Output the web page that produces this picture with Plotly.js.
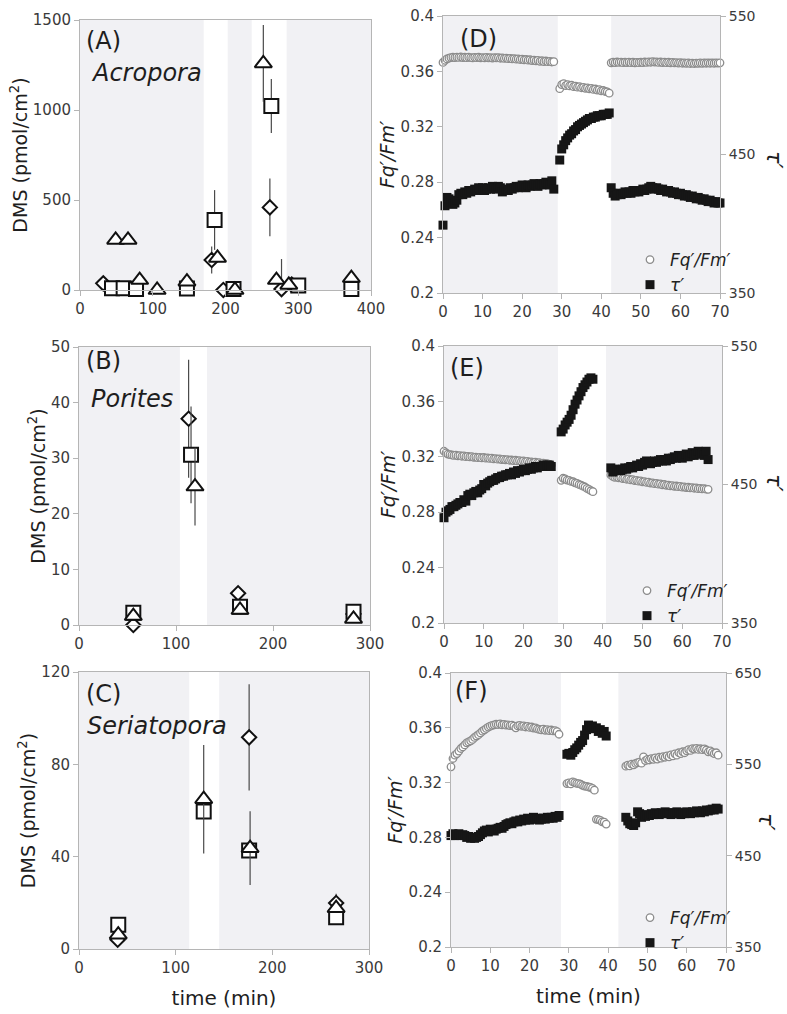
<!DOCTYPE html>
<html><head><meta charset="utf-8">
<script src="https://cdn.plot.ly/plotly-3.0.1.min.js"></script>
<style>body{margin:0;padding:0;background:#fff}#g{width:787px;height:1014px}</style>
</head><body><div id="g"></div>
<script>
// ---------- DMS panels (A, B, C) ----------
const aDiamX = [32, 181, 197, 261, 277, 291];
const aDiamY = [37, 167, 0, 459, 5, 30];
const aDiamErrP = [0, 75, 0, 160, 167, 0];
const aDiamErrM = [0, 75, 0, 160, 5, 0];
const aSqX = [44, 60, 77, 147, 185, 211, 263, 300, 373];
const aSqY = [10, 10, 5, 8, 389, 5, 1022, 25, 5];
const aSqErr = [0, 0, 0, 0, 166, 0, 150, 0, 0];
const aTriX = [49, 66, 82, 106, 147, 189, 213, 252, 270, 287, 373];
const aTriY = [278, 278, 55, 0, 46, 178, 0, 1259, 55, 28, 66];
const aTriErr = [0, 0, 0, 0, 0, 0, 0, 213, 0, 0, 0];

const bDiamX = [56, 113, 164, 283];
const bDiamY = [0, 37.1, 5.7, 2.0];
const bDiamErr = [0, 10.6, 0, 0];
const bSqX = [56, 115.5, 166, 283];
const bSqY = [2.2, 30.6, 3.3, 2.4];
const bSqErr = [0, 8.7, 0, 0];
const bTriX = [56, 119.6, 166, 283];
const bTriY = [1.6, 24.9, 2.7, 1.1];
const bTriErr = [0, 7.0, 0, 0];

const cDiamX = [40, 176, 266];
const cDiamY = [4, 91.7, 19.9];
const cDiamErr = [0, 23, 4];
const cSqX = [40.6, 129, 176, 266];
const cSqY = [10.5, 59.6, 42.7, 13.8];
const cTriX = [40.6, 129, 177, 266];
const cTriY = [6.2, 64.9, 43.7, 17.7];
const cTriErr = [0, 23.5, 16, 0];

// treatment shading (start, end) in minutes
const shadeA = [[0,170],[203,236],[284,400]];
const shadeB = [[0,104],[132,300]];
const shadeC = [[0,114],[145,300]];
const shadeD = [[0,29],[42.5,70]];
const shadeE = [[0,28.7],[40.8,70]];
const shadeF = [[0,28],[42.6,70]];

// ---------- Fluorescence panels (D, E, F) ----------
const tD = [0,0.5,1,1.5,2,2.5,3,3.5,4,4.5,5,5.5,6,6.5,7,7.5,8,8.5,9,9.5,10,10.5,11,11.5,12,12.5,13,13.5,14,14.5,15,15.5,16,16.5,17,17.5,18,18.5,19,19.5,20,20.5,21,21.5,22,22.5,23,23.5,24,24.5,25,25.5,26,26.5,27,27.5,28,
29.5,30,30.5,31,31.5,32,32.5,33,33.5,34,34.5,35,35.5,36,36.5,37,37.5,38,38.5,39,39.5,40,40.5,41,41.5,42,
42.5,43,43.5,44,44.5,45,45.5,46,46.5,47,47.5,48,48.5,49,49.5,50,50.5,51,51.5,52,52.5,53,53.5,54,54.5,55,55.5,56,56.5,57,57.5,58,58.5,59,59.5,60,60.5,61,61.5,62,62.5,63,63.5,64,64.5,65,65.5,66,66.5,67,67.5,68,68.5,69,69.5,70];
const fqD = [0.3665,0.3680,0.3690,0.3695,0.3700,0.3702,0.3700,0.3703,0.3701,0.3704,0.3700,0.3702,0.3699,0.3703,0.3700,0.3697,0.3701,0.3699,0.3702,0.3698,0.3700,0.3697,0.3701,0.3698,0.3699,0.3696,0.3700,0.3697,0.3699,0.3695,0.3698,0.3694,0.3696,0.3692,0.3694,0.3690,0.3692,0.3688,0.3690,0.3686,0.3688,0.3684,0.3686,0.3681,0.3684,0.3678,0.3681,0.3676,0.3679,0.3673,0.3677,0.3671,0.3675,0.3670,0.3673,0.3668,0.3670,
0.3475,0.3505,0.3512,0.3498,0.3505,0.3495,0.3500,0.3490,0.3494,0.3486,0.3490,0.3482,0.3485,0.3478,0.3481,0.3474,0.3478,0.3470,0.3473,0.3465,0.3468,0.3460,0.3462,0.3455,0.3452,0.3443,
0.3662,0.3667,0.3664,0.3668,0.3665,0.3667,0.3663,0.3666,0.3664,0.3667,0.3663,0.3666,0.3662,0.3665,0.3663,0.3666,0.3664,0.3668,0.3665,0.3669,0.3666,0.3670,0.3667,0.3669,0.3665,0.3668,0.3664,0.3667,0.3663,0.3666,0.3662,0.3665,0.3661,0.3664,0.3660,0.3663,0.3659,0.3662,0.3658,0.3661,0.3657,0.3660,0.3657,0.3660,0.3658,0.3661,0.3658,0.3661,0.3659,0.3662,0.3659,0.3661,0.3659,0.3661,0.3660,0.3662];
const tauD = [399,413,419,418,416,414,415,417,421,422,421,423,422,424,423,424,425,424,426,425,426,424,425,426,425,427,426,425,427,426,423,424,425,424,426,425,426,427,426,427,428,427,426,428,427,428,429,428,427,429,428,429,430,429,428,431,425,
446,454,457,460,462,464,465,467,468,470,471,472,473,474,475,476,476,477,477,478,478,478,479,479,479,480,
426,422,420,421,422,421,422,423,422,423,422,424,423,424,423,424,425,424,425,426,427,426,425,426,425,424,425,424,423,424,423,422,423,422,421,422,421,420,421,420,419,420,419,418,419,418,417,418,417,416,417,416,415,416,415,415];

const tE = [0,0.5,1,1.5,2,2.5,3,3.5,4,4.5,5,5.5,6,6.5,7,7.5,8,8.5,9,9.5,10,10.5,11,11.5,12,12.5,13,13.5,14,14.5,15,15.5,16,16.5,17,17.5,18,18.5,19,19.5,20,20.5,21,21.5,22,22.5,23,23.5,24,24.5,25,25.5,26,26.5,27,
29.5,30,30.5,31,31.5,32,32.5,33,33.5,34,34.5,35,35.5,36,36.5,37,37.5,
42,42.5,43,43.5,44,44.5,45,45.5,46,46.5,47,47.5,48,48.5,49,49.5,50,50.5,51,51.5,52,52.5,53,53.5,54,54.5,55,55.5,56,56.5,57,57.5,58,58.5,59,59.5,60,60.5,61,61.5,62,62.5,63,63.5,64,64.5,65,65.5,66,66.5];
const fqE = [0.3240,0.3228,0.3220,0.3216,0.3213,0.3210,0.3212,0.3207,0.3209,0.3204,0.3206,0.3201,0.3203,0.3199,0.3201,0.3196,0.3198,0.3194,0.3196,0.3192,0.3195,0.3190,0.3192,0.3188,0.3190,0.3185,0.3187,0.3183,0.3185,0.3180,0.3182,0.3178,0.3180,0.3175,0.3177,0.3173,0.3175,0.3170,0.3172,0.3167,0.3170,0.3165,0.3167,0.3162,0.3164,0.3159,0.3161,0.3156,0.3158,0.3153,0.3155,0.3150,0.3150,0.3145,0.3141,
0.3030,0.3045,0.3040,0.3032,0.3030,0.3022,0.3020,0.3012,0.3008,0.3000,0.2995,0.2988,0.2982,0.2972,0.2965,0.2955,0.2948,
0.3069,0.3058,0.3052,0.3055,0.3048,0.3050,0.3043,0.3045,0.3038,0.3040,0.3033,0.3035,0.3028,0.3030,0.3024,0.3026,0.3019,0.3021,0.3015,0.3017,0.3010,0.3012,0.3006,0.3008,0.3002,0.3004,0.2998,0.3000,0.2994,0.2996,0.2990,0.2992,0.2987,0.2989,0.2984,0.2986,0.2981,0.2983,0.2978,0.2980,0.2975,0.2977,0.2973,0.2975,0.2970,0.2972,0.2968,0.2970,0.2966,0.2965];
const tauE = [426,430,431,432,434,434,435,436,437,437,439,438,442,443,442,444,445,444,446,447,450,449,451,452,453,453,454,455,455,456,456,457,457,458,457,459,458,460,459,460,461,460,461,462,461,462,463,462,463,463,464,463,464,464,463,
488,490,493,495,497,500,504,508,511,514,517,520,522,524,526,527,526,
462,459,461,460,461,460,461,462,461,462,463,462,463,464,463,465,464,466,467,466,465,466,467,466,467,468,467,468,467,469,468,469,470,469,471,470,469,471,472,470,471,473,471,472,474,472,473,471,474,468];

const tF = [0,0.5,1,1.5,2,2.5,3,3.5,4,4.5,5,5.5,6,6.5,7,7.5,8,8.5,9,9.5,10,10.5,11,11.5,12,12.5,13,13.5,14,14.5,15,15.5,16,16.5,17,17.5,18,18.5,19,19.5,20,20.5,21,21.5,22,22.5,23,23.5,24,24.5,25,25.5,26,26.5,27,27.5,
29.5,30,30.5,31,31.5,32,32.5,33,33.5,34,34.5,35,35.5,36,36.5,37,37.5,38,38.5,39,39.5,
44.5,45,45.5,46,46.5,47,47.5,48,48.5,49,49.5,50,50.5,51,51.5,52,52.5,53,53.5,54,54.5,55,55.5,56,56.5,57,57.5,58,58.5,59,59.5,60,60.5,61,61.5,62,62.5,63,63.5,64,64.5,65,65.5,66,66.5,67,67.5,68];
const fqF = [0.3315,0.3376,0.3400,0.3412,0.3430,0.3449,0.3460,0.3475,0.3490,0.3497,0.3505,0.3515,0.3530,0.3540,0.3550,0.3562,0.3575,0.3585,0.3595,0.3605,0.3612,0.3618,0.3622,0.3626,0.3624,0.3628,0.3622,0.3625,0.3619,0.3622,0.3616,0.3620,0.3612,0.3600,0.3614,0.3617,0.3611,0.3614,0.3606,0.3610,0.3603,0.3606,0.3598,0.3600,0.3592,0.3588,0.3585,0.3590,0.3582,0.3586,0.3580,0.3584,0.3577,0.3580,0.3572,0.3553,
0.3193,0.3198,0.3190,0.3205,0.3200,0.3195,0.3192,0.3188,0.3180,0.3175,0.3172,0.3168,0.3165,0.3158,0.3145,0.2932,0.2930,0.2925,0.2914,0.2912,0.2897,
0.3320,0.3328,0.3322,0.3335,0.3330,0.3340,0.3345,0.3350,0.3342,0.3388,0.3360,0.3370,0.3365,0.3375,0.3370,0.3380,0.3372,0.3385,0.3378,0.3390,0.3385,0.3395,0.3388,0.3402,0.3395,0.3410,0.3400,0.3418,0.3412,0.3425,0.3418,0.3432,0.3440,0.3435,0.3448,0.3445,0.3450,0.3442,0.3447,0.3440,0.3446,0.3438,0.3425,0.3432,0.3420,0.3412,0.3418,0.3400];
const tauF = [472,474,472,473,474,472,473,472,470,471,469,470,469,470,471,473,475,477,478,476,479,478,477,479,480,481,480,482,484,485,486,485,487,488,487,489,488,490,489,491,489,490,492,490,491,489,490,491,490,492,491,492,491,493,492,494,
561,562,560,563,566,568,571,574,576,582,588,593,591,592,589,590,586,588,584,586,581,
492,488,485,484,483,486,498,496,492,494,493,495,494,496,495,497,496,495,497,496,498,496,497,495,497,496,498,497,495,497,496,498,497,496,498,497,499,498,497,499,498,500,499,500,501,500,502,501];

// ---------- styling ----------
const FONT = 'DejaVu Sans';
const W = 787, H = 1014;
const GRAY = '#f1f1f4';
const AX = '#b5b5b5';
const px = (a, b) => [a / W, b / W];
const py = (top, bot) => [1 - bot / H, 1 - top / H];

function baseAxis(extra) {
  return Object.assign({
    showgrid: false, zeroline: false, showline: true, linecolor: AX, linewidth: 1,
    ticks: 'outside', ticklen: 5, tickcolor: AX, mirror: true,
    tickfont: {family: FONT, size: 15, color: '#3a3a3a'}, fixedrange: true
  }, extra);
}
const smallTick = {family: FONT, size: 14, color: '#3a3a3a'};

const dmsTitle = {text: 'DMS (pmol/cm<sup>2</sup>)', font: {family: FONT, size: 19, color: '#1e1e1e'}, standoff: 0};
const fqTitle = {text: '<i>Fq′/Fm′</i>', font: {family: FONT, size: 19, color: '#1e1e1e'}, standoff: 0};
const timeTitle = {text: 'time (min)', font: {family: FONT, size: 20, color: '#1e1e1e'}, standoff: 14};

function dmsTrace(x, y, ep, em, sym, size, xa, ya) {
  const t = {
    x: x, y: y, xaxis: xa, yaxis: ya, type: 'scatter', mode: 'markers', showlegend: false,
    cliponaxis: false, hoverinfo: 'x+y',
    marker: {symbol: sym, size: size, color: '#ffffff', line: {color: '#111', width: 2}}
  };
  if (ep) t.error_y = {type: 'data', symmetric: false, array: ep, arrayminus: em || ep, color: '#4a4a4a', thickness: 1.2, width: 0};
  return t;
}
function minusClip(err, y) { return err.map((e, i) => Math.min(e, y[i])); }

const traces = [
  dmsTrace(aDiamX, aDiamY, aDiamErrP, aDiamErrM, 'diamond', 11, 'x', 'y'),
  dmsTrace(aSqX, aSqY, aSqErr, minusClip(aSqErr, aSqY), 'square', 14, 'x', 'y'),
  dmsTrace(aTriX, aTriY, aTriErr, minusClip(aTriErr, aTriY), 'triangle-up', 15, 'x', 'y'),
  dmsTrace(bDiamX, bDiamY, bDiamErr, minusClip(bDiamErr, bDiamY), 'diamond', 11, 'x2', 'y2'),
  dmsTrace(bSqX, bSqY, bSqErr, minusClip(bSqErr, bSqY), 'square', 14, 'x2', 'y2'),
  dmsTrace(bTriX, bTriY, bTriErr, minusClip(bTriErr, bTriY), 'triangle-up', 15, 'x2', 'y2'),
  dmsTrace(cDiamX, cDiamY, cDiamErr, minusClip(cDiamErr, cDiamY), 'diamond', 11, 'x3', 'y3'),
  dmsTrace(cSqX, cSqY, null, null, 'square', 14, 'x3', 'y3'),
  dmsTrace(cTriX, cTriY, cTriErr, minusClip(cTriErr, cTriY), 'triangle-up', 15, 'x3', 'y3')
];

function fluoTraces(t, fq, tau, xa, ya, ya2, leg) {
  return [
    {x: t, y: fq, xaxis: xa, yaxis: ya, type: 'scatter', mode: 'markers', name: '<i>Fq′/Fm′</i>', legend: leg,
     cliponaxis: false, marker: {symbol: 'circle', size: 7.5, color: '#ffffff', line: {color: '#8c8c8c', width: 1.3}}},
    {x: t, y: tau, xaxis: xa, yaxis: ya2, type: 'scatter', mode: 'markers', name: '<i>τ′</i>', legend: leg,
     cliponaxis: false, marker: {symbol: 'square', size: 9, color: '#161616', line: {width: 0}}}
  ];
}
traces.push(...fluoTraces(tD, fqD, tauD, 'x4', 'y4', 'y5', 'legend'));
traces.push(...fluoTraces(tE, fqE, tauE, 'x5', 'y6', 'y7', 'legend2'));
traces.push(...fluoTraces(tF, fqF, tauF, 'x6', 'y8', 'y9', 'legend3'));

const shapes = [];
function addShade(list, xref, yref) {
  list.forEach(s => shapes.push({type: 'rect', xref: xref, yref: yref + ' domain', x0: s[0], x1: s[1], y0: 0, y1: 1,
    fillcolor: GRAY, line: {width: 0}, layer: 'below'}));
}
addShade(shadeA, 'x', 'y'); addShade(shadeB, 'x2', 'y2'); addShade(shadeC, 'x3', 'y3');
addShade(shadeD, 'x4', 'y4'); addShade(shadeE, 'x5', 'y6'); addShade(shadeF, 'x6', 'y8');

function legendAt(xp, yp) {
  return {x: xp / W, y: 1 - yp / H, xanchor: 'left', yanchor: 'top', bgcolor: 'rgba(0,0,0,0)',
    font: {family: FONT, size: 17, color: '#222'}, itemwidth: 30, tracegroupgap: 0, borderwidth: 0};
}
const lbl = (t, xp, yp, size) => ({text: t, x: xp / W, y: 1 - yp / H, xref: 'paper', yref: 'paper',
  xanchor: 'left', yanchor: 'middle', showarrow: false, font: {family: FONT, size: size, color: '#1e1e1e'}});
const tauLbl = (xp, yp) => ({text: '<i>τ′</i>', x: xp / W, y: 1 - yp / H, xref: 'paper', yref: 'paper',
  xanchor: 'center', yanchor: 'middle', showarrow: false, textangle: 90, font: {family: FONT, size: 21, color: '#1e1e1e'}});

const rightAxis = (ov, xa, hi) => baseAxis({overlaying: ov, side: 'right', anchor: xa, range: [350, hi],
  tick0: 350, dtick: 100, mirror: false, tickfont: smallTick});

const layout = {
  width: W, height: H, margin: {l: 0, r: 0, t: 0, b: 0}, paper_bgcolor: '#fff', plot_bgcolor: '#fff',
  font: {family: FONT}, showlegend: true, shapes: shapes, hovermode: false,
  xaxis: baseAxis({domain: px(80, 371), anchor: 'y', range: [0, 400], dtick: 100}),
  yaxis: baseAxis({domain: py(20, 290), anchor: 'x', range: [0, 1500], dtick: 500, title: dmsTitle}),
  xaxis2: baseAxis({domain: px(79, 370), anchor: 'y2', range: [0, 300], dtick: 100}),
  yaxis2: baseAxis({domain: py(347, 625), anchor: 'x2', range: [0, 50], dtick: 10, title: dmsTitle}),
  xaxis3: baseAxis({domain: px(79, 369), anchor: 'y3', range: [0, 300], dtick: 100, title: timeTitle}),
  yaxis3: baseAxis({domain: py(672, 949), anchor: 'x3', range: [0, 120], dtick: 40, title: dmsTitle}),
  xaxis4: baseAxis({domain: px(443, 720), anchor: 'y4', range: [0, 70], dtick: 10}),
  yaxis4: baseAxis({domain: py(16, 293), anchor: 'x4', range: [0.2, 0.4], dtick: 0.04, title: fqTitle, mirror: false}),
  yaxis5: rightAxis('y4', 'x4', 550),
  xaxis5: baseAxis({domain: px(444, 722), anchor: 'y6', range: [0, 70], dtick: 10}),
  yaxis6: baseAxis({domain: py(346, 623), anchor: 'x5', range: [0.2, 0.4], dtick: 0.04, title: fqTitle, mirror: false}),
  yaxis7: rightAxis('y6', 'x5', 550),
  xaxis6: baseAxis({domain: px(451, 726), anchor: 'y8', range: [0, 70], dtick: 10, title: timeTitle}),
  yaxis8: baseAxis({domain: py(673, 947), anchor: 'x6', range: [0.2, 0.4], dtick: 0.04, title: fqTitle, mirror: false}),
  yaxis9: rightAxis('y8', 'x6', 650),
  legend: legendAt(630, 242),
  legend2: legendAt(627, 573),
  legend3: legendAt(630, 900),
  annotations: [
    lbl('(A)', 84, 41, 24), lbl('<i>Acropora</i>', 89, 73, 24),
    lbl('(B)', 84, 361, 24), lbl('<i>Porites</i>', 89, 399, 24),
    lbl('(C)', 84, 694, 24), lbl('<i>Seriatopora</i>', 85, 726, 24),
    lbl('(D)', 458, 39, 24), lbl('(E)', 448, 368, 24), lbl('(F)', 453, 691, 24),
    tauLbl(774, 160), tauLbl(774, 483), tauLbl(766, 822)
  ]
};

Plotly.newPlot('g', traces, layout, {staticPlot: true, displayModeBar: false});
</script>
</body></html>
